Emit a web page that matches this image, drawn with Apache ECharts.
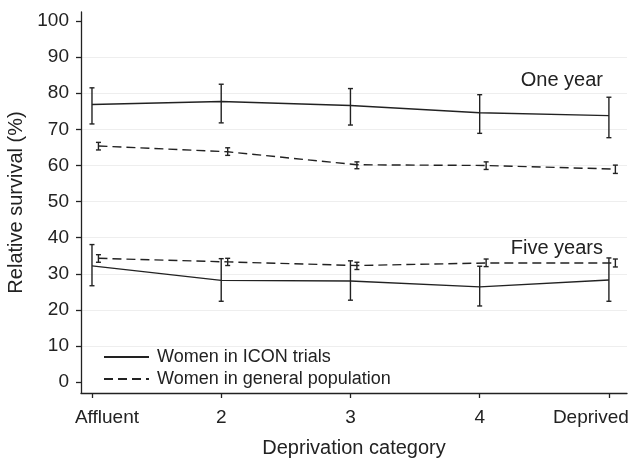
<!DOCTYPE html>
<html><head><meta charset="utf-8">
<script src="https://cdn.jsdelivr.net/npm/echarts@6/dist/echarts.min.js"></script>
<style>html,body{margin:0;padding:0;background:#fff}#c{width:638px;height:462px}</style>
</head><body><div id="c"></div>
<script>
const categories = ['Affluent', '2', '3', '4', 'Deprived'];
const catPos = [1, 2, 3, 4, 5];
const popOffset = 0.05;
const yTicks = [0, 10, 20, 30, 40, 50, 60, 70, 80, 90, 100];
const gridVals = [10, 20, 30, 40, 50, 60, 70, 80, 90];

const icon1Mean = [76.9, 77.7, 76.6, 74.6, 73.8];
const icon1Low  = [71.5, 71.8, 71.2, 68.9, 67.7];
const icon1High = [81.5, 82.5, 81.3, 79.6, 78.9];

const pop1Mean = [65.4, 63.8, 60.2, 60.0, 59.0];
const pop1Low  = [64.3, 62.8, 59.1, 58.9, 57.8];
const pop1High = [66.4, 64.9, 61.0, 61.0, 60.1];

const icon5Mean = [32.2, 28.2, 28.0, 26.4, 28.3];
const icon5Low  = [26.7, 22.4, 22.7, 21.1, 22.4];
const icon5High = [38.1, 34.2, 33.6, 32.1, 34.4];

const pop5Mean = [34.3, 33.3, 32.3, 33.0, 33.0];
const pop5Low  = [33.2, 32.3, 31.2, 32.0, 31.9];
const pop5High = [35.3, 34.3, 33.2, 34.1, 34.1];

const INK = '#222';
const FONT = 'Liberation Sans';

function linePts(mean, off) { return mean.map((v, i) => [catPos[i] + off, v]); }
function barPts(low, high, off) { return low.map((v, i) => [catPos[i] + off, v, high[i]]); }

function errSeries(data, capHalf) {
  return {
    type: 'custom', silent: true, z: 3,
    data: data,
    renderItem: function (params, api) {
      const x = api.value(0);
      const lo = api.coord([x, api.value(1)]);
      const hi = api.coord([x, api.value(2)]);
      const st = { stroke: INK, lineWidth: 1.4 };
      return { type: 'group', children: [
        { type: 'line', shape: { x1: lo[0], y1: lo[1], x2: hi[0], y2: hi[1] }, style: st },
        { type: 'line', shape: { x1: lo[0] - capHalf, y1: lo[1], x2: lo[0] + capHalf, y2: lo[1] }, style: st },
        { type: 'line', shape: { x1: hi[0] - capHalf, y1: hi[1], x2: hi[0] + capHalf, y2: hi[1] }, style: st }
      ]};
    }
  };
}

function lineSeries(name, data, dashed, withGrid) {
  const s = {
    name: name, type: 'line', data: data, symbol: 'none', z: 2,
    lineStyle: { color: INK, width: 1.4, type: dashed ? [9, 5] : 'solid' },
    itemStyle: { color: INK }
  };
  if (withGrid) {
    s.markLine = {
      silent: true, symbol: 'none', label: { show: false }, z: 0,
      lineStyle: { color: '#eeeeee', width: 1, type: 'solid' },
      data: gridVals.map(v => ({ yAxis: v }))
    };
  }
  return s;
}

const labelFont = { color: INK, fontSize: 19, fontFamily: FONT };

const chart = echarts.init(document.getElementById('c'));
chart.setOption({
  animation: false,
  backgroundColor: '#fff',
  textStyle: { fontFamily: FONT },
  grid: { left: 81, right: 11, top: 12, bottom: 69, containLabel: false, outerBoundsMode: 'none' },
  xAxis: {
    type: 'value', min: 0.915, max: 5.14,
    name: 'Deprivation category', nameLocation: 'middle', nameGap: 45,
    nameTextStyle: { color: INK, fontSize: 20, fontFamily: FONT },
    axisLine: { onZero: false, lineStyle: { color: INK, width: 1.3 } },
    axisTick: { show: true, length: 5, lineStyle: { color: INK, width: 1.3 }, customValues: catPos },
    axisLabel: { color: INK, fontSize: 19, fontFamily: FONT, margin: 15, customValues: catPos,
      formatter: function (v) {
        const i = catPos.indexOf(Math.round(v));
        if (i === 0) return '{first|' + categories[i] + '}';
        if (i === categories.length - 1) return '{last|' + categories[i] + '}';
        return categories[i];
      },
      rich: {
        first: Object.assign({ padding: [0, 0, 0, 30] }, labelFont),
        last: Object.assign({ padding: [0, 36, 0, 0] }, labelFont)
      }
    },
    splitLine: { show: false }
  },
  yAxis: {
    type: 'value', min: -3, max: 102.5,
    name: 'Relative survival (%)', nameLocation: 'middle', nameGap: 51,
    nameTextStyle: { color: INK, fontSize: 20, fontFamily: FONT },
    axisLine: { show: true, onZero: false, lineStyle: { color: INK, width: 1.3 } },
    axisTick: { show: true, length: 5, lineStyle: { color: INK, width: 1.3 }, customValues: yTicks },
    axisLabel: { color: INK, fontSize: 19, fontFamily: FONT, margin: 12, customValues: yTicks },
    splitLine: { show: false }
  },
  legend: {
    orient: 'vertical', left: 98, top: 343, itemGap: 4,
    itemWidth: 45, itemHeight: 12,
    itemStyle: { opacity: 0 },
    textStyle: { color: INK, fontSize: 18, fontFamily: FONT, padding: [0, 0, 0, 3] },
    data: ['Women in ICON trials', 'Women in general population']
  },
  graphic: [
    { type: 'text', style: { x: 603, y: 80, text: 'One year', fill: INK, font: '20px ' + FONT, align: 'right', verticalAlign: 'middle' } },
    { type: 'text', style: { x: 603, y: 248, text: 'Five years', fill: INK, font: '20px ' + FONT, align: 'right', verticalAlign: 'middle' } }
  ],
  series: [
    lineSeries('Women in ICON trials', linePts(icon1Mean, 0), false, true),
    lineSeries('Women in general population', linePts(pop1Mean, popOffset), true, false),
    lineSeries('Women in ICON trials', linePts(icon5Mean, 0), false, false),
    lineSeries('Women in general population', linePts(pop5Mean, popOffset), true, false),
    errSeries(barPts(icon1Low, icon1High, 0), 2.5),
    errSeries(barPts(pop1Low, pop1High, popOffset), 2.5),
    errSeries(barPts(icon5Low, icon5High, 0), 2.5),
    errSeries(barPts(pop5Low, pop5High, popOffset), 2.5)
  ]
});
</script></body></html>
